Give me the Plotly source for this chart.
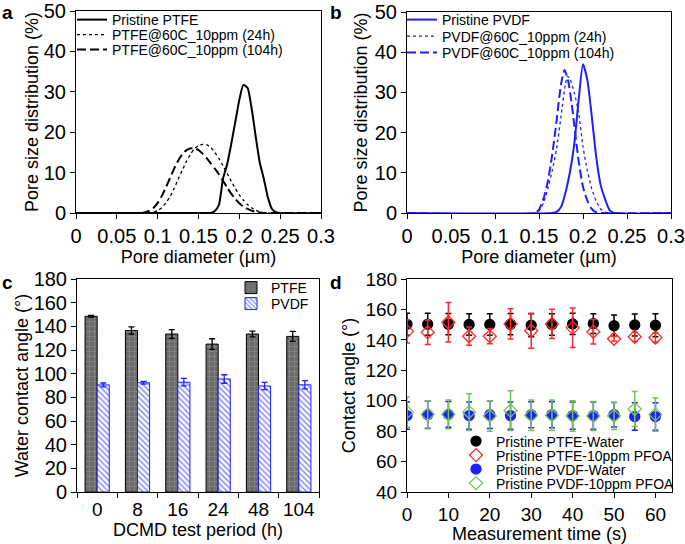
import plotly.graph_objects as go

W, H = 685, 544
FONT = "Liberation Sans, Arial, sans-serif"
BLUE = "#1f1fff"
RED = "#ff2a2a"
GREEN = "#72c455"

# ---------------- Panel a: PTFE pore size distribution ----------------
a_pristine_x = [0, 0.16, 0.165, 0.17, 0.175, 0.18, 0.185, 0.19, 0.195, 0.2, 0.205, 0.21, 0.215, 0.22, 0.225, 0.23, 0.235, 0.24, 0.245, 0.25, 0.3]
a_pristine_y = [0, 0, 0, 0.5, 2, 8.5, 12, 17, 22.5, 28, 31.7, 31, 26, 19, 12.5, 8.5, 3.8, 1, 0.2, 0, 0]
a_24h_x = [0, 0.09, 0.095, 0.1, 0.105, 0.11, 0.115, 0.12, 0.125, 0.13, 0.135, 0.14, 0.145, 0.15, 0.155, 0.16, 0.165, 0.17, 0.175, 0.18, 0.185, 0.19, 0.195, 0.2, 0.205, 0.21, 0.215, 0.22, 0.225, 0.23, 0.235, 0.3]
a_24h_y = [0, 0, 0.2, 0.6, 1.3, 2.5, 4, 6, 8.3, 10.5, 12.7, 14.5, 15.9, 16.7, 17, 16.9, 16.2, 15, 13.5, 11.7, 9.8, 7.9, 6.1, 4.5, 3.2, 2.1, 1.3, 0.7, 0.3, 0.1, 0, 0]
a_104h_x = [0, 0.08, 0.085, 0.09, 0.095, 0.1, 0.105, 0.11, 0.115, 0.12, 0.125, 0.13, 0.135, 0.14, 0.145, 0.15, 0.155, 0.16, 0.165, 0.17, 0.175, 0.18, 0.185, 0.19, 0.195, 0.2, 0.205, 0.21, 0.215, 0.22, 0.225, 0.23, 0.3]
a_104h_y = [0, 0, 0.2, 0.6, 1.3, 2.5, 4.2, 6.3, 8.6, 10.9, 12.9, 14.5, 15.5, 16, 16, 15.6, 14.7, 13.6, 12.3, 11, 9.6, 8, 6.3, 4.8, 3.5, 2.4, 1.6, 1, 0.6, 0.3, 0.1, 0, 0]

# ---------------- Panel b: PVDF pore size distribution ----------------
b_pristine_x = [0, 0.165, 0.17, 0.175, 0.18, 0.185, 0.19, 0.195, 0.2, 0.205, 0.21, 0.215, 0.22, 0.225, 0.23, 0.235, 0.3]
b_pristine_y = [0, 0, 0.3, 1.5, 5, 10, 17, 28, 37, 33, 24, 14, 7, 3.5, 0.8, 0, 0]
b_24h_x = [0, 0.145, 0.15, 0.155, 0.16, 0.165, 0.17, 0.175, 0.18, 0.1825, 0.185, 0.19, 0.195, 0.2, 0.205, 0.21, 0.215, 0.22, 0.225, 0.23, 0.3]
b_24h_y = [0, 0, 0.5, 2.5, 6, 10.5, 16, 24, 32, 34, 33.5, 30, 25, 16.5, 10.5, 6, 3, 1, 0.2, 0, 0]
b_104h_x = [0, 0.145, 0.15, 0.155, 0.16, 0.165, 0.17, 0.175, 0.179, 0.183, 0.187, 0.19, 0.195, 0.2, 0.205, 0.21, 0.215, 0.22, 0.3]
b_104h_y = [0, 0, 0.8, 3.5, 7.8, 14.5, 23, 32, 35.6, 33, 27.5, 22, 13, 6.5, 3, 1, 0.2, 0, 0]

# ---------------- Panel c: water contact angle bars ----------------
c_periods = ["0", "8", "16", "24", "48", "104"]
c_ptfe = [148.5, 136.5, 133.5, 125, 133.5, 131.5]
c_ptfe_err = [0.8, 3, 3.7, 4.5, 2.4, 4.2]
c_pvdf = [90.5, 92.3, 92.8, 95.5, 89.6, 90.6]
c_pvdf_err = [1.6, 1.2, 3.2, 3.6, 3.1, 3.5]

# ---------------- Panel d: contact angle vs time ----------------
d_time = [0, 5, 10, 15, 20, 25, 30, 35, 40, 45, 50, 55, 60]
d_ptfe_water = [150.3, 150.3, 150.3, 150.1, 150.1, 150.3, 149.6, 150.1, 150.5, 150.7, 149.3, 149.8, 149.6]
d_ptfe_water_err = [7.2, 7.2, 7, 7, 7, 7, 7.5, 7, 7, 6.5, 7, 7.2, 7.5]
d_ptfe_pfoa = [145.6, 145, 151.6, 142.4, 142.4, 150.5, 146, 150.5, 147.9, 145.3, 140.7, 142, 141.5]
d_ptfe_pfoa_err = [7.6, 8, 13, 6, 5, 10, 11.5, 9.6, 13, 8, 1.5, 3, 3]
d_pvdf_water = [90.2, 90.8, 91.0, 90.2, 90.8, 90.2, 90.8, 90.8, 90.2, 90.2, 90.8, 89.6, 89.6]
d_pvdf_water_err = [9, 9, 8.5, 9, 9, 9, 8.5, 8.5, 9, 9, 8, 9, 9]
d_pvdf_pfoa = [92.5, 91, 91, 92.5, 90, 93.5, 90.5, 90.5, 90, 90, 90, 94.5, 91]
d_pvdf_pfoa_err = [10, 9, 9.5, 12, 10, 13, 10, 10, 10, 9.5, 9, 11.5, 11]

fig = go.Figure()

def line_trace(x, y, name, color, dash, width, xa, ya, leg):
    return go.Scatter(x=x, y=y, mode="lines", name=name,
                      line=dict(color=color, dash=dash, width=width, shape="spline", smoothing=0.6),
                      xaxis=xa, yaxis=ya, legend=leg, showlegend=True)

fig.add_trace(line_trace(a_pristine_x, a_pristine_y, "Pristine PTFE", "black", "solid", 2, "x", "y", "legend"))
fig.add_trace(line_trace(a_24h_x, a_24h_y, "PTFE@60C_10ppm (24h)", "black", "dot", 1.3, "x", "y", "legend2"))
fig.add_trace(line_trace(a_104h_x, a_104h_y, "PTFE@60C_10ppm (104h)", "black", "9px,4px", 2, "x", "y", "legend3"))

fig.add_trace(line_trace(b_pristine_x, b_pristine_y, "Pristine PVDF", BLUE, "solid", 2, "x2", "y2", "legend4"))
fig.add_trace(line_trace(b_24h_x, b_24h_y, "PVDF@60C_10ppm (24h)", BLUE, "dot", 1.3, "x2", "y2", "legend5"))
fig.add_trace(line_trace(b_104h_x, b_104h_y, "PVDF@60C_10ppm (104h)", BLUE, "9px,4px", 2, "x2", "y2", "legend6"))

fig.add_trace(go.Bar(x=c_periods, y=c_ptfe, name="PTFE", xaxis="x3", yaxis="y3", legend="legend7",
                     marker=dict(color="#6a6a6a", line=dict(color="black", width=1),
                                 pattern=dict(shape="+", fgcolor="#9a9a9a", size=5, solidity=0.35)),
                     error_y=dict(type="data", array=c_ptfe_err, color="black", thickness=1.3, width=3)))
fig.add_trace(go.Bar(x=c_periods, y=c_pvdf, name="PVDF", xaxis="x3", yaxis="y3", legend="legend8",
                     marker=dict(color="white", line=dict(color=BLUE, width=1),
                                 pattern=dict(shape="\\", fgcolor=BLUE, bgcolor="white", size=4, solidity=0.4)),
                     error_y=dict(type="data", array=c_pvdf_err, color=BLUE, thickness=1.3, width=3)))

def pt_trace(y, err, name, color, symbol, leg):
    return go.Scatter(x=d_time, y=y, mode="markers", name=name, xaxis="x4", yaxis="y4", legend=leg,
                      marker=dict(symbol=symbol, size=10, color=color, line=dict(color=color, width=1.3)),
                      error_y=dict(type="data", array=err, color=color, thickness=1.5, width=3))

fig.add_trace(pt_trace(d_ptfe_water, d_ptfe_water_err, "Pristine PTFE-Water", "black", "circle", "legend9"))
fig.add_trace(pt_trace(d_ptfe_pfoa, d_ptfe_pfoa_err, "Pristine PTFE-10ppm PFOA", RED, "diamond-open", "legend10"))
fig.add_trace(pt_trace(d_pvdf_water, d_pvdf_water_err, "Pristine PVDF-Water", BLUE, "circle", "legend11"))
fig.add_trace(pt_trace(d_pvdf_pfoa, d_pvdf_pfoa_err, "Pristine PVDF-10ppm PFOA", GREEN, "diamond-open", "legend12"))

def axis(tick_size, **kw):
    d = dict(showline=True, linecolor="black", linewidth=1, mirror=True, ticks="outside",
             ticklen=5, tickcolor="black", showgrid=False, zeroline=False, tickangle=0,
             tickfont=dict(size=tick_size, color="black"), title_font=dict(size=18, color="black"))
    d.update(kw)
    return d

layout = dict(width=W, height=H, margin=dict(l=0, r=0, t=0, b=0, autoexpand=False),
              paper_bgcolor="white", plot_bgcolor="white", showlegend=True,
              font=dict(family=FONT, color="black"),
              barmode="group", bargap=0.4, bargroupgap=0)

layout["xaxis"] = axis(20, domain=[76/W, 321/W], range=[0, 0.3], dtick=0.05, anchor="y",
                       title=dict(text="Pore diameter (µm)", standoff=4))
layout["yaxis"] = axis(20, domain=[1-213/H, 1-11/H], range=[0, 50], dtick=10, anchor="x",
                       title=dict(text="Pore size distribution (%)", standoff=0))
layout["xaxis2"] = axis(20, domain=[407/W, 671/W], range=[0, 0.3], dtick=0.05, anchor="y2",
                        layer="below traces", title=dict(text="Pore diameter (µm)", standoff=4))
layout["yaxis2"] = axis(20, domain=[1-213/H, 1-12/H], range=[0, 50], dtick=10, anchor="x2",
                        layer="below traces", title=dict(text="Pore size distribution (%)", standoff=2))
layout["xaxis3"] = axis(19, domain=[77/W, 319/W], anchor="y3", tickson="boundaries",
                        title=dict(text="DCMD test period (h)", standoff=2))
layout["yaxis3"] = axis(20, domain=[1-492/H, 1-279/H], range=[0, 180], dtick=20, anchor="x3",
                        title=dict(text="Water contact angle (°)", standoff=0))
layout["xaxis4"] = axis(19, domain=[407/W, 672/W], range=[0, 64], dtick=10, anchor="y4",
                        title=dict(text="Measurement time (s)", standoff=2))
layout["yaxis4"] = axis(19, domain=[1-492/H, 1-279/H], range=[40, 180], dtick=20, anchor="x4",
                        title=dict(text="Contact angle (°)", standoff=5))

def leg(xpx, ypx):
    return dict(x=xpx/W, y=1-ypx/H, xanchor="left", yanchor="middle", bgcolor="rgba(0,0,0,0)",
                borderwidth=0, font=dict(size=14, color="black"), itemclick=False, itemdoubleclick=False)

layout["legend"] = leg(72, 20)
layout["legend2"] = leg(72, 35)
layout["legend3"] = leg(72, 50)
layout["legend4"] = leg(402, 20)
layout["legend5"] = leg(402, 36.5)
layout["legend6"] = leg(402, 53)
layout["legend7"] = leg(231, 288)
layout["legend8"] = leg(231, 304)
layout["legend9"] = leg(456, 441.5)
layout["legend10"] = leg(456, 455.5)
layout["legend11"] = leg(456, 469.5)
layout["legend12"] = leg(456, 483.5)

ann = []
for label, xp, yp in [("a", 8, 12), ("b", 336, 12), ("c", 8, 282), ("d", 336, 282)]:
    ann.append(dict(text="<b>%s</b>" % label, x=xp/W, y=1-yp/H, xref="paper", yref="paper",
                    showarrow=False, xanchor="center", yanchor="middle", font=dict(size=19, color="black")))
layout["annotations"] = ann

fig.update_layout(**layout)
fig.write_html("out.html", config={"displayModeBar": False},
               post_script="document.body.style.margin='0px';document.body.style.padding='0px';")
